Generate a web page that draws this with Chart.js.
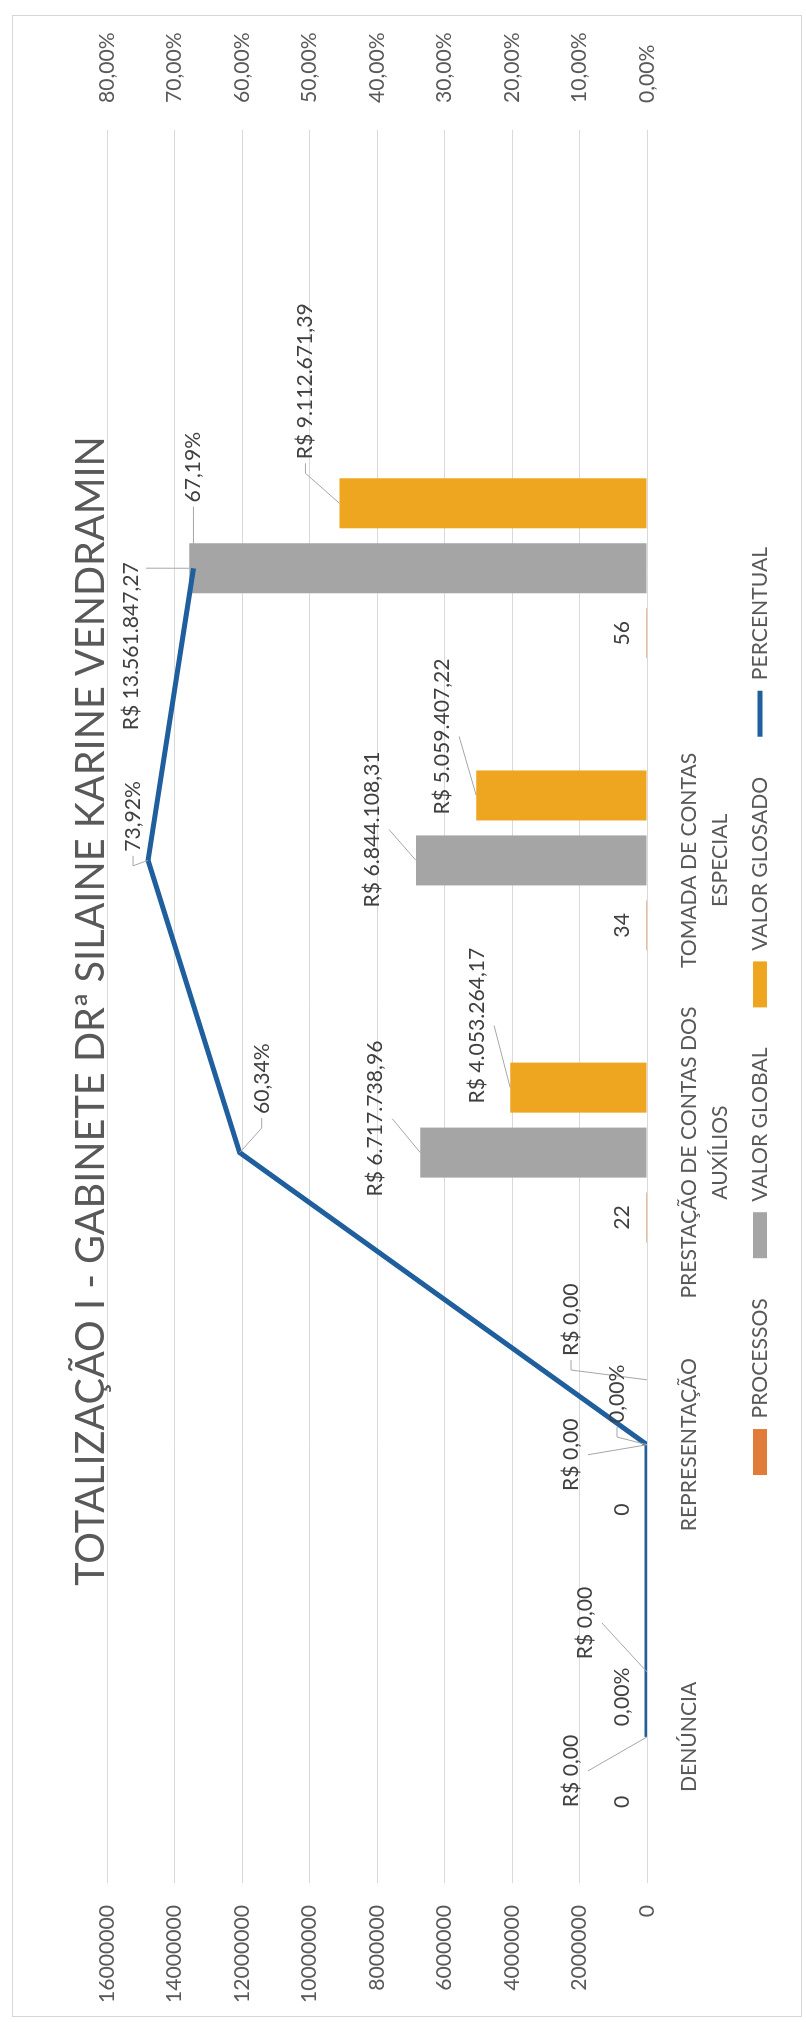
<!DOCTYPE html>
<html>
<head>
<meta charset="utf-8">
<script src="https://cdn.jsdelivr.net/npm/chart.js@4.4.1/dist/chart.umd.min.js"></script>
<style>
    html, body { margin: 0; padding: 0; background: #fff; }
    body { width: 806px; height: 2022px; overflow: hidden; position: relative; }
    /* chart is drawn landscape and turned a quarter left, like the scanned page */
    #wrap {
        position: absolute; left: 0; top: 0;
        width: 2022px; height: 806px;
        transform-origin: 0 0;
        transform: translate(0px, 2022px) rotate(-90deg);
        background: #fff;
    }
    #frame {
        position: absolute; left: 5px; top: 12px;
        width: 2002px; height: 790px;
        border: 1px solid #d6d6d6; box-sizing: border-box;
        pointer-events: none;
    }
</style>
</head>
<body>
<div id="wrap">
    <canvas id="chart" width="2022" height="806"></canvas>
    <div id="frame"></div>
</div>
<script>
// Data
const chartTitle = 'TOTALIZAÇÃO I - GABINETE DRª SILAINE KARINE VENDRAMIN';
const categories = ['DENÚNCIA', 'REPRESENTAÇÃO', ['PRESTAÇÃO DE CONTAS DOS', 'AUXÍLIOS'], ['TOMADA DE CONTAS', 'ESPECIAL'], '', ''];
const processos = [0, 0, 22, 34, 56, null];
const valorGlobal = [0, 0, 6717738.96, 6844108.31, 13561847.27, null];
const valorGlosado = [0, 0, 4053264.17, 5059407.22, 9112671.39, null];
const percentual = [0, 0, 0.6034, 0.7392, 0.6719, null];
const leftTicks = [0, 2000000, 4000000, 6000000, 8000000, 10000000, 12000000, 14000000, 16000000];
const rightTicks = [0, 0.1, 0.2, 0.3, 0.4, 0.5, 0.6, 0.7, 0.8];

const FONT = 'Lato, "Open Sans", sans-serif';

// size the fallback font so text lengths match the Calibri of the original
const measureCtx = document.createElement('canvas').getContext('2d');
function fitSize(text, targetWidth) {
    measureCtx.font = '100px ' + FONT;
    return 100 * targetWidth / measureCtx.measureText(text).width;
}
const labelSize = fitSize('R$ 6.717.738,96', 156);
const titleSize = fitSize(chartTitle, 1150);
const LEGEND_PAD = 40;

function brl(v) {
    const [intPart, dec] = v.toFixed(2).split('.');
    return 'R$ ' + intPart.replace(/\B(?=(\d{3})+(?!\d))/g, '.') + ',' + dec;
}
function pct(v) {
    return (v * 100).toFixed(2).replace('.', ',') + '%';
}

// label placement: [dx, dy, leader] from the bar top / line point
// leader 'b' = from under the label, 'e' = from its right end, 'l' = hooked from its left side
const labelPlacement = [
    [[0, -25, ''], [0, -25, ''], [0, -25, ''], [0, -25, ''], [0, -25, '']],
    [[-34, -76, 'b'], [-10, -76, 'b'], [34, -45, 'b'], [31, -44, 'b'], [-78, -58, 'e']],
    [[49, -62, 'b'], [60, -76, 'l'], [62, -33, 'b'], [59, -34, 'b'], [122, -34, 'l']],
    [[40, -25, ''], [51, -30, 'l'], [74, 22, 'l'], [44, -15, 'l'], [101, 0, 'l']]
];
const labelFormat = [v => String(v), brl, brl, pct];

const titlePlugin = {
    id: 'sheetTitle',
    afterDraw(chart) {
        const ctx = chart.ctx;
        ctx.save();
        ctx.font = `${titleSize}px ${FONT}`;
        ctx.fillStyle = '#595959';
        ctx.textAlign = 'center';
        ctx.textBaseline = 'alphabetic';
        ctx.fillText(chartTitle, chart.width / 2, 104);
        ctx.restore();
    }
};

// keep the legend row where the original has it, below the two-line category labels
const legendShiftPlugin = {
    id: 'legendShift',
    afterLayout(chart) {
        const lg = chart.legend;
        const top = 760 - LEGEND_PAD - labelSize / 2;
        const dy = top - lg.top;
        lg.top += dy;
        lg.bottom += dy;
    }
};

const dataLabelPlugin = {
    id: 'dataLabels',
    afterDatasetsDraw(chart) {
        const ctx = chart.ctx;
        ctx.save();
        ctx.font = `${labelSize}px ${FONT}`;
        ctx.textAlign = 'center';
        ctx.textBaseline = 'middle';
        chart.data.datasets.forEach((ds, di) => {
            const meta = chart.getDatasetMeta(di);
            ds.data.forEach((v, i) => {
                if (v === null) return;
                const el = meta.data[i];
                const place = labelPlacement[di][i];
                const text = labelFormat[di](v);
                const cx = el.x + place[0];
                const cy = el.y + place[1];
                const w = ctx.measureText(text).width;

                if (place[2]) {
                    ctx.strokeStyle = '#a6a6a6';
                    ctx.lineWidth = 1;
                    ctx.beginPath();
                    if (place[2] === 'b') {
                        ctx.moveTo(cx, cy + labelSize * 0.8);
                    } else if (place[2] === 'e') {
                        ctx.moveTo(cx + w / 2 - 6, cy + labelSize * 0.7);
                    } else {
                        ctx.moveTo(cx - w / 2 - 4, cy);
                        ctx.lineTo(cx - w / 2 - 14, cy);
                    }
                    ctx.lineTo(el.x, el.y);
                    ctx.stroke();
                }
                ctx.fillStyle = '#404040';
                ctx.fillText(text, cx, cy);
            });
        });
        ctx.restore();
    }
};

Chart.defaults.font.family = FONT;
Chart.defaults.font.size = labelSize;
Chart.defaults.color = '#595959';

new Chart(document.getElementById('chart'), {
    type: 'bar',
    data: {
        labels: categories,
        datasets: [
            { label: 'PROCESSOS', data: processos, backgroundColor: '#E07B39', yAxisID: 'y', order: 1, pointStyle: 'rect' },
            { label: 'VALOR GLOBAL', data: valorGlobal, backgroundColor: '#A5A5A5', yAxisID: 'y', order: 1, pointStyle: 'rect' },
            { label: 'VALOR GLOSADO', data: valorGlosado, backgroundColor: '#EEA51F', yAxisID: 'y', order: 1, pointStyle: 'rect' },
            {
                type: 'line', label: 'PERCENTUAL', data: percentual, yAxisID: 'y1', order: 0,
                borderColor: '#1F5F9E', backgroundColor: '#1F5F9E', borderWidth: 5,
                pointRadius: 0, pointStyle: 'line', tension: 0, fill: false
            }
        ]
    },
    options: {
        responsive: false,
        animation: false,
        devicePixelRatio: 1,
        layout: { padding: { top: 107, bottom: 9, left: 0, right: 0 } },
        datasets: { bar: { categoryPercentage: 0.667, barPercentage: 0.77 } },
        scales: {
            x: {
                grid: { display: false },
                border: { display: false },
                ticks: { padding: 18, maxRotation: 0, autoSkip: false, font: { size: labelSize, lineHeight: 1.5 } },
                afterFit: s => { s.height = 90; }
            },
            y: {
                position: 'left',
                min: 0, max: 16000000,
                grid: { color: '#d9d9d9', drawTicks: false },
                border: { display: false },
                ticks: { padding: 22, callback: v => String(v) },
                afterBuildTicks: s => { s.ticks = leftTicks.map(v => ({ value: v })); },
                afterFit: s => { s.width = 139; }
            },
            y1: {
                position: 'right',
                min: 0, max: 0.8,
                grid: { display: false, drawTicks: false },
                border: { display: false },
                ticks: { padding: 27, callback: v => pct(v) },
                afterBuildTicks: s => { s.ticks = rightTicks.map(v => ({ value: v })); },
                afterFit: s => { s.width = 130; }
            }
        },
        plugins: {
            title: { display: false },
            tooltip: { enabled: false },
            legend: {
                position: 'bottom',
                maxHeight: 60,
                labels: {
                    usePointStyle: true,
                    pointStyleWidth: 46,
                    boxHeight: 14,
                    padding: LEGEND_PAD,
                    sort: (a, b) => a.datasetIndex - b.datasetIndex
                }
            }
        }
    },
    plugins: [titlePlugin, legendShiftPlugin, dataLabelPlugin]
});
</script>
</body>
</html>
